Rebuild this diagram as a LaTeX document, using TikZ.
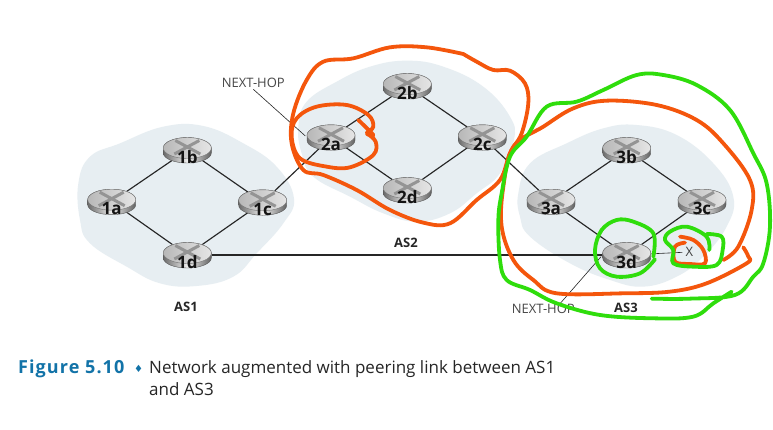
\documentclass[tikz,border=0pt]{standalone}
\usepackage{fontspec}
\setmainfont{Open Sans}
\newfontfamily\labelfont{Open Sans}
\newfontfamily\figfont[LetterSpace=6]{Open Sans}
\newfontfamily\symfont{DejaVu Sans}
\usetikzlibrary{shapes.geometric}
\pgfdeclarelayer{blobs}
\pgfdeclarelayer{links}
\pgfsetlayers{blobs,links,main}
\definecolor{blobc}{HTML}{E7EEF2}
\definecolor{orangeink}{HTML}{F4560C}
\definecolor{greenink}{HTML}{2FDD0C}
\definecolor{figblue}{HTML}{1273A8}
\definecolor{inkc}{HTML}{262626}
\tikzset{
  blob/.style={fill=blobc,draw=none},
  link/.style={draw=inkc,line width=1.15pt},
  leader/.style={draw=inkc,line width=0.6pt,shorten >=2pt},
  anchorshape/.style={ellipse,minimum width=48pt,minimum height=26pt,inner sep=0pt,draw=none},
  rlabel/.style={font=\labelfont\bfseries\fontsize{17}{18}\selectfont,text=black!92,inner sep=0pt},
  asname/.style={font=\labelfont\bfseries\fontsize{13}{14}\selectfont,text=inkc,inner sep=0pt},
  thin label/.style={font=\fontsize{13}{14}\selectfont,text=black!72,inner sep=1pt},
  ink/.style={line width=3.8pt,line cap=round,line join=round},
  capt/.style={font=\fontsize{17}{19}\selectfont,text=black!85,inner sep=0pt,anchor=base west},
}
\newcommand{\routerat}[4]{%
  \node[anchorshape] (#1) at (#2,#3) {};
  \begin{scope}[shift={(#1.center)},x=1pt,y=1pt]
    \shade[left color=black!58,right color=black!62,middle color=black!6,draw=black!65,line width=0.4pt]
      (-24,2) -- (-24,-3) arc[start angle=180,end angle=360,x radius=24pt,y radius=10pt] -- (24,2)
      arc[start angle=0,end angle=180,x radius=24pt,y radius=10.5pt] -- cycle;
    \shade[left color=black!28,right color=black!10,draw=black!55,line width=0.4pt]
      (0,2) ellipse[x radius=24pt,y radius=10.5pt];
    \draw[black!42,line width=3pt] (-13,-4) -- (12,9.5) (-12,9.5) -- (13,-4);
  \end{scope}
  \node[rlabel] (#1t) at ([yshift=-6.8pt]#1.center) {#4};
}
\begin{document}
\begin{tikzpicture}[x=1pt,y=-1pt]
\useasboundingbox (0,0) rectangle (773,429);
\begin{pgfonlayer}{blobs}
\fill[white] (0,0) rectangle (773,429);
\end{pgfonlayer}
% routers
\routerat{ra}{111.7}{201.7}{1a}
\routerat{rb}{187.3}{150}{1b}
\routerat{rc}{262.7}{202.3}{1c}
\routerat{rd}{187.3}{255}{1d}
\routerat{sa}{331}{137.3}{2a}
\routerat{sb}{407.3}{86}{2b}
\routerat{sc}{482.3}{137.3}{2c}
\routerat{sd}{407.3}{190}{2d}
\routerat{ta}{551}{201.7}{3a}
\routerat{tb}{626.7}{150}{3b}
\routerat{tc}{702}{201.7}{3c}
\routerat{td}{626.7}{255}{3d}
\node[font=\fontsize{13}{14}\selectfont,text=black!75,inner sep=3pt] (xdest) at (689.3,252) {X};
% labels
\node[thin label] (nha) at (253.3,83.3) {NEXT-HOP};
\node[thin label] (nhb) at (543.3,309.3) {NEXT-HOP};
\node[asname] (asa) at (186,307) {AS1};
\node[asname] (asb) at (406,243) {AS2};
\node[asname] (asc) at (626,307.7) {AS3};
% blobs
\begin{pgfonlayer}{blobs}
\begin{scope}[shift={(70,120)},x=0.3333pt,y=-0.3333pt]
\fill[blob] plot[smooth cycle,tension=0.7] coordinates {(25,190)(60,110)(150,70)(280,20)(400,18)(520,70)(620,140)(672,235)(640,310)(560,400)(490,470)(380,498)(270,490)(170,440)(60,370)(30,300)};
\end{scope}
\begin{scope}[shift={(210,30)},x=0.3333pt,y=-0.3333pt]
\fill[blob] plot[smooth cycle,tension=0.7] coordinates {(265,290)(290,215)(380,155)(480,110)(590,92)(700,110)(820,170)(900,260)(912,330)(870,430)(800,490)(720,550)(620,575)(520,550)(420,500)(310,440)(275,370)};
\end{scope}
\begin{scope}[shift={(490,60)},x=0.3333pt,y=-0.3333pt]
\fill[blob] plot[smooth cycle,tension=0.7] coordinates {(85,400)(120,310)(230,250)(340,205)(440,195)(560,225)(670,310)(730,410)(710,500)(640,590)(560,650)(460,680)(360,660)(240,610)(120,530)(90,470)};
\end{scope}
\end{pgfonlayer}
% links
\begin{pgfonlayer}{links}
\draw[link] (ra) -- (rb);
\draw[link] (rb) -- (rc);
\draw[link] (ra) -- (rd);
\draw[link] (rd) -- (rc);
\draw[link] (rc) -- (sa);
\draw[link] (sa) -- (sb);
\draw[link] (sa) -- (sd);
\draw[link] (sb) -- (sc);
\draw[link] (sd) -- (sc);
\draw[link] (sc) -- (ta);
\draw[link] (ta) -- (tb);
\draw[link] (tb) -- (tc);
\draw[link] (ta) -- (td);
\draw[link] (td) -- (tc);
\draw[link] (rd) -- (td);
\draw[draw=inkc,line width=0.6pt] (td) -- (xdest);
\draw[leader] (nha.south) -- (sa.west);
\draw[leader] ([xshift=17pt]nhb.north) -- (td.west);
\end{pgfonlayer}
% caption
\node[capt,font=\figfont\bfseries\fontsize{18}{20}\selectfont,text=figblue] (figno) at (18,373) {Figure 5.10};
\node[capt,font=\symfont\fontsize{10}{12}\selectfont,text=figblue] (dia) at (134,372) {♦};
\node[capt] (capa) at (149,373) {Network augmented with peering link between AS1};
\node[capt] (capb) at (149,395) {and AS3};
% orange scribbles
\begin{scope}[shift={(210,30)},x=0.3333pt,y=-0.3333pt]
\draw[ink,orangeink] plot[smooth,tension=0.6] coordinates {(760,72)(800,95)(850,120)(900,122)(945,160)(955,220)(935,310)(900,370)(870,450)(800,510)(720,580)(640,578)(540,540)(440,480)(340,435)(280,420)(245,340)(250,250)(290,150)(340,95)(430,85)(540,52)(650,52)(760,72)};
\draw[ink,orangeink] plot[smooth,tension=0.6] coordinates {(445,270)(490,315)(470,310)(490,290)(475,255)(410,225)(320,230)(260,265)(245,320)(270,385)(350,410)(420,412)(490,375)(497,335)(470,310)};
\end{scope}
\begin{scope}[shift={(490,60)},x=0.3333pt,y=-0.3333pt]
\draw[ink,orangeink] plot[smooth,tension=0.6] coordinates {(700,600)(745,560)(785,450)(780,360)(700,250)(620,180)(500,135)(350,122)(250,145)(160,200)(70,260)(40,380)(35,500)(70,600)(130,660)(200,700)(400,700)(540,695)(650,670)(770,610)(775,590)(760,562)};
\draw[ink,orangeink] plot[smooth,tension=0.6] coordinates {(570,530)(610,540)(640,570)(645,610)(600,612)(555,605)(555,560)(585,548)};
\draw[ink,greenink] plot[smooth,tension=0.6] coordinates {(485,716)(600,716)(735,705)(790,650)(820,610)(840,500)(830,370)(790,280)(720,150)(620,75)(520,45)(440,45)(340,90)(260,125)(170,140)(110,230)(60,290)(35,400)(25,480)(30,600)(50,660)(120,690)(200,730)(330,765)(490,775)(610,770)(670,730)(725,695)};
\draw[ink,greenink] plot[smooth,tension=0.6] coordinates {(495,598)(450,640)(380,650)(330,625)(315,570)(335,510)(380,480)(430,485)(490,520)(490,590)};
\draw[ink,greenink] plot[smooth,tension=0.6] coordinates {(658,570)(650,530)(590,500)(540,515)(525,540)(550,570)(550,610)(610,620)(680,615)(698,570)(695,530)(650,522)};
\end{scope}
\end{tikzpicture}
\end{document}
